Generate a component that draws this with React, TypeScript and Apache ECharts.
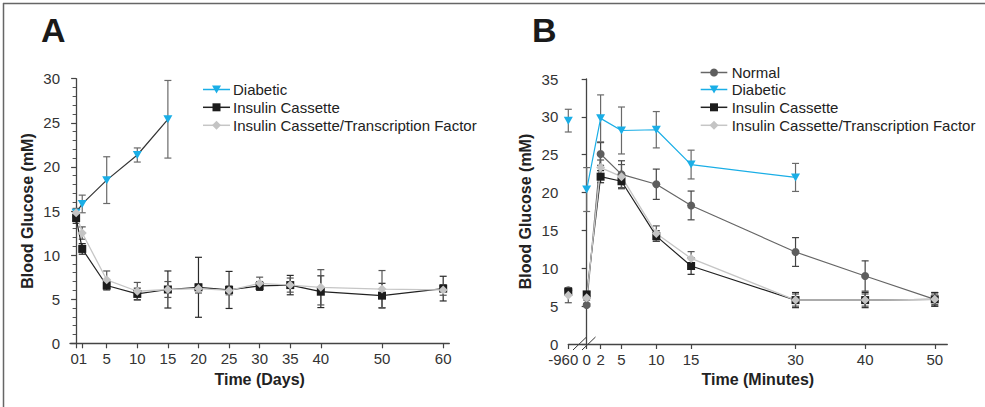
import React, { useEffect, useRef } from 'react';
import * as echarts from 'echarts';

// ---------- Panel A data (Time in days) ----------
const xTicksA = [0, 1, 5, 10, 15, 20, 25, 30, 35, 40, 50, 60];
const xLabelsA = [1, 5, 10, 15, 20, 25, 30, 35, 40, 50, 60]; // "0" is drawn together with "1" as "01"
const daysA = [0, 1, 5, 10, 15, 20, 25, 30, 35, 40, 50, 60];
const daysDiabeticA = [0, 1, 5, 10, 15];
const diabeticA = [14.8, 15.8, 18.5, 21.35, 25.4];
const diabeticAErr = [0.5, 1.0, 2.65, 0.8, 4.4];
const cassetteA = [14.2, 10.7, 6.55, 5.6, 6.1, 6.35, 6.05, 6.5, 6.6, 5.85, 5.4, 6.2];
const cassetteAErr = [0.6, 0.6, 0.5, 0.65, 2.1, 3.4, 2.1, 0.5, 1.1, 1.8, 1.4, 1.4];
const tfA = [14.8, 12.5, 7.2, 5.9, 6.1, 6.2, 6.0, 6.8, 6.6, 6.35, 6.15, 6.05];
const tfAErr = [0.4, 0.7, 1.0, 1.0, 0.9, 0.5, 0.5, 0.7, 0.8, 2.0, 2.1, 0.6];

// ---------- Panel B data (Time in minutes) ----------
const xTicksB = [-960, 0, 2, 5, 10, 15, 30, 40, 50];
const minutesB = [-960, 0, 2, 5, 10, 15, 30, 40, 50];
const minutesDiabeticB = [-960, 0, 2, 5, 10, 15, 30];
const normalB = [7.1, 5.15, 25.1, 22.4, 21.1, 18.3, 12.15, 8.98, 5.9];
const normalBErr = [0.3, 0.2, 1.5, 1.8, 2.0, 1.9, 1.9, 2.0, 0.9];
const diabeticB = [29.5, 20.4, 29.8, 28.2, 28.3, 23.7, 22.0];
const diabeticBErr = [1.5, 2.9, 3.1, 3.1, 2.4, 1.9, 1.85];
const cassetteB = [6.9, 6.55, 22.1, 21.5, 14.25, 10.3, 5.8, 5.8, 5.9];
const cassetteBErr = [0.3, 0.3, 0.8, 0.9, 0.7, 1.1, 1.0, 1.0, 0.9];
const tfB = [6.45, 6.1, 23.3, 22.1, 14.6, 11.3, 5.8, 5.8, 5.9];
const tfBErr = [1.0, 0.3, 1.0, 1.6, 1.0, 0.9, 0.8, 0.8, 0.7];

const legendA = ['Diabetic', 'Insulin Cassette', 'Insulin Cassette/Transcription Factor'];
const legendB = ['Normal', 'Diabetic', 'Insulin Cassette', 'Insulin Cassette/Transcription Factor'];

// broken axis: -960 min drawn at the y axis position
const BREAK_POS = -2.64;
const posB = (t: number) => (t === -960 ? BREAK_POS : t);

const FONT = 'Liberation Sans, Arial, Helvetica, sans-serif';
const BLUE = '#1aaee6';

type Sty = { symbol: string; size: any; rotate?: number; color: string; line: string; width: number; err: string };
const STY: Record<string, Sty> = {
  Normal: { symbol: 'circle', size: 8, color: '#5e5e5e', line: '#666666', width: 1.2, err: '#444444' },
  Diabetic: { symbol: 'triangle', size: [9, 8], rotate: 180, color: BLUE, line: BLUE, width: 1.2, err: '#6a6a6a' },
  'Insulin Cassette': { symbol: 'rect', size: 8, color: '#1c1c1c', line: '#222222', width: 1.2, err: '#2a2a2a' },
  'Insulin Cassette/Transcription Factor': { symbol: 'diamond', size: 9, color: '#c4c4c4', line: '#c6c6c6', width: 1.3, err: '#555555' },
};

function errSeries(xs: number[], ys: number[], es: number[], g: number, color: string) {
  return {
    type: 'custom',
    xAxisIndex: g,
    yAxisIndex: g,
    z: 2,
    silent: true,
    encode: { x: 0, y: [1, 2] },
    data: xs.map((x, i) => [x, ys[i] - es[i], ys[i] + es[i]]),
    renderItem: (params: any, api: any) => {
      const x = api.value(0);
      const p1 = api.coord([x, api.value(2)]);
      const p2 = api.coord([x, api.value(1)]);
      const w = 3.5;
      const st = { stroke: color, lineWidth: 1.2, fill: null };
      return {
        type: 'group',
        children: [
          { type: 'line', shape: { x1: p1[0], y1: p1[1], x2: p2[0], y2: p2[1] }, style: st },
          { type: 'line', shape: { x1: p1[0] - w, y1: p1[1], x2: p1[0] + w, y2: p1[1] }, style: st },
          { type: 'line', shape: { x1: p2[0] - w, y1: p2[1], x2: p2[0] + w, y2: p2[1] }, style: st },
        ],
      };
    },
  };
}

function lineSeries(name: string, pts: number[][], g: number, lineColor?: string) {
  const s = STY[name];
  return {
    type: 'line',
    name,
    xAxisIndex: g,
    yAxisIndex: g,
    z: 3,
    data: pts,
    symbol: s.symbol,
    symbolSize: s.size,
    symbolRotate: s.rotate || 0,
    showSymbol: true,
    itemStyle: { color: s.color, opacity: 1 },
    lineStyle: { color: lineColor || s.line, width: s.width },
    emphasis: { disabled: true },
  };
}

function scatterSeries(name: string, pts: number[][], g: number) {
  const s = STY[name];
  return {
    type: 'scatter',
    name,
    xAxisIndex: g,
    yAxisIndex: g,
    z: 3,
    data: pts,
    symbol: s.symbol,
    symbolSize: s.size,
    symbolRotate: s.rotate || 0,
    itemStyle: { color: s.color, opacity: 1 },
    emphasis: { disabled: true },
  };
}

function marker(name: string, cx: number, cy: number): any {
  const s = STY[name];
  const st = { fill: s.color };
  if (s.symbol === 'circle') return { type: 'circle', shape: { cx, cy, r: 4 }, style: st };
  if (s.symbol === 'rect') return { type: 'rect', shape: { x: cx - 4, y: cy - 4, width: 8, height: 8 }, style: st };
  if (s.symbol === 'diamond')
    return { type: 'polygon', shape: { points: [[cx, cy - 4.5], [cx + 4.5, cy], [cx, cy + 4.5], [cx - 4.5, cy]] }, style: st };
  return { type: 'polygon', shape: { points: [[cx - 4.5, cy - 4], [cx + 4.5, cy - 4], [cx, cy + 4]] }, style: st };
}

function legendGraphic(names: string[], x0: number, x1: number, tx: number, ys: number[]) {
  const out: any[] = [];
  names.forEach((n, i) => {
    const y = ys[i];
    const s = STY[n];
    out.push({ type: 'line', shape: { x1: x0, y1: y, x2: x1, y2: y }, style: { stroke: s.line, lineWidth: 1.5 } });
    out.push(marker(n, (x0 + x1) / 2, y));
    out.push({
      type: 'text',
      x: tx,
      y,
      style: { text: n, font: `15px ${FONT}`, fill: '#222', verticalAlign: 'middle', align: 'left' },
    });
  });
  return out;
}

export default function App() {
  const ref = useRef<HTMLDivElement>(null);
  useEffect(() => {
    document.body.style.margin = '0';
    const chart = echarts.init(ref.current!, undefined, { renderer: 'svg' });

    const axisLine = { show: true, lineStyle: { color: '#444', width: 1.3 } };
    const axisTick = { show: true, inside: false, length: 5, lineStyle: { color: '#444', width: 1.2 } };
    const axisLabel = { color: '#333', fontSize: 15, fontFamily: FONT };
    const nameStyle = { fontSize: 16, fontWeight: 'bold', color: '#222', fontFamily: FONT };

    const series: any[] = [
      // Panel A error bars
      errSeries(daysDiabeticA, diabeticA, diabeticAErr, 0, STY['Diabetic'].err),
      errSeries(daysA, cassetteA, cassetteAErr, 0, STY['Insulin Cassette'].err),
      errSeries(daysA, tfA, tfAErr, 0, STY['Insulin Cassette/Transcription Factor'].err),
      // Panel A lines
      lineSeries('Diabetic', daysDiabeticA.map((d, i) => [d, diabeticA[i]]), 0, '#333333'),
      lineSeries('Insulin Cassette', daysA.map((d, i) => [d, cassetteA[i]]), 0),
      lineSeries('Insulin Cassette/Transcription Factor', daysA.map((d, i) => [d, tfA[i]]), 0),
      // Panel B error bars
      errSeries(minutesB.map(posB), normalB, normalBErr, 1, STY['Normal'].err),
      errSeries(minutesDiabeticB.map(posB), diabeticB, diabeticBErr, 1, STY['Diabetic'].err),
      errSeries(minutesB.map(posB), cassetteB, cassetteBErr, 1, STY['Insulin Cassette'].err),
      errSeries(minutesB.map(posB), tfB, tfBErr, 1, STY['Insulin Cassette/Transcription Factor'].err),
    ];
    const bSets: [string, number[], number[]][] = [
      ['Normal', minutesB, normalB],
      ['Diabetic', minutesDiabeticB, diabeticB],
      ['Insulin Cassette', minutesB, cassetteB],
      ['Insulin Cassette/Transcription Factor', minutesB, tfB],
    ];
    bSets.forEach(([n, xs, ys]) => {
      const pts = xs.map((t, i) => [posB(t), ys[i]]);
      series.push(scatterSeries(n, pts.slice(0, 1), 1));
      series.push(lineSeries(n, pts.slice(1), 1));
    });

    const option: any = {
      animation: false,
      textStyle: { fontFamily: FONT },
      grid: [
        { left: 70, top: 78.7, width: 379.3, height: 264.6, containLabel: false, outerBoundsMode: 'none' },
        { left: 568.3, top: 79, width: 379, height: 265, containLabel: false, outerBoundsMode: 'none' },
      ],
      xAxis: [
        {
          type: 'value',
          gridIndex: 0,
          min: -1,
          max: 61,
          name: 'Time (Days)',
          nameLocation: 'middle',
          nameGap: 27,
          nameTextStyle: nameStyle,
          axisLine,
          axisTick: { ...axisTick, customValues: xTicksA },
          axisLabel: {
            ...axisLabel,
            margin: 8,
            customValues: xLabelsA,
            formatter: (v: number) => (v === 1 ? '{p|01}' : String(v)),
            rich: { p: { fontSize: 15, color: '#333', fontFamily: FONT, padding: [0, 7, 0, 0] } },
          },
          splitLine: { show: false },
        },
        {
          type: 'value',
          gridIndex: 1,
          min: BREAK_POS,
          max: 51.8,
          name: 'Time (Minutes)',
          nameLocation: 'middle',
          nameGap: 27,
          nameTextStyle: nameStyle,
          axisLine,
          axisTick: { ...axisTick, customValues: xTicksB.map(posB) },
          axisLabel: {
            ...axisLabel,
            margin: 8,
            customValues: xTicksB.map(posB),
            formatter: (v: number) => (Math.abs(v - BREAK_POS) < 1e-6 ? '{neg|-960}' : String(v)),
            rich: { neg: { fontSize: 15, color: '#333', fontFamily: FONT, padding: [0, 10, 0, 0] } },
          },
          splitLine: { show: false },
        },
      ],
      yAxis: [
        {
          type: 'value',
          gridIndex: 0,
          min: 0,
          max: 30,
          interval: 5,
          name: 'Blood Glucose (mM)',
          nameLocation: 'middle',
          nameGap: 35,
          nameTextStyle: nameStyle,
          axisLine,
          axisTick,
          minorTick: { show: true, splitNumber: 5, length: 3.5, lineStyle: { color: '#555', width: 1 } },
          axisLabel: { ...axisLabel, margin: 10 },
          splitLine: { show: false },
          minorSplitLine: { show: false },
        },
        {
          type: 'value',
          gridIndex: 1,
          min: 0,
          max: 35,
          interval: 5,
          name: 'Blood Glucose (mM)',
          nameLocation: 'middle',
          nameGap: 35,
          nameTextStyle: nameStyle,
          axisLine,
          axisTick,
          axisLabel: { ...axisLabel, margin: 10 },
          splitLine: { show: false },
        },
      ],
      graphic: [
        // frame
        { type: 'line', shape: { x1: 3, y1: 3.5, x2: 985, y2: 3.5 }, style: { stroke: '#666', lineWidth: 1.5 } },
        { type: 'line', shape: { x1: 3.5, y1: 3, x2: 3.5, y2: 407 }, style: { stroke: '#666', lineWidth: 1.5 } },
        // panel letters
        { type: 'text', x: 41, y: 47, style: { text: 'A', font: `bold 34px ${FONT}`, fill: '#1a1a1a', verticalAlign: 'bottom' } },
        { type: 'text', x: 532, y: 47, style: { text: 'B', font: `bold 34px ${FONT}`, fill: '#1a1a1a', verticalAlign: 'bottom' } },
        // axis break marks on panel B
        { type: 'line', shape: { x1: 573, y1: 350, x2: 586.5, y2: 337 }, style: { stroke: '#333', lineWidth: 1 } },
        { type: 'line', shape: { x1: 582, y1: 350, x2: 595.5, y2: 337 }, style: { stroke: '#333', lineWidth: 1 } },
        ...legendGraphic(legendA, 203, 230, 233, [89.5, 107.3, 125.3]),
        ...legendGraphic(legendB, 700.7, 727.3, 731.7, [72.5, 89.5, 107.3, 125.3]),
      ],
      series,
    };
    chart.setOption(option);
    return () => chart.dispose();
  }, []);
  return <div ref={ref} style={{ width: 985, height: 407, background: '#fff' }} />;
}
